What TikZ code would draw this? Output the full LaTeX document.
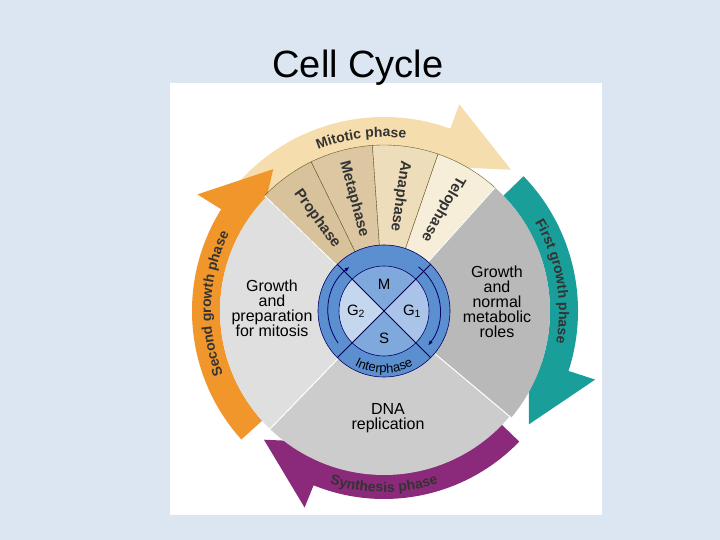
\documentclass[tikz,border=0pt]{standalone}
\usepackage{fontspec}
\setmainfont{Liberation Sans}
\usetikzlibrary{decorations.text,arrows.meta}
\definecolor{bgblue}{HTML}{DCE6F2}
\definecolor{mito}{HTML}{F6DDAE}
\definecolor{tealc}{HTML}{1A9E9A}
\definecolor{purp}{HTML}{8B2A7A}
\definecolor{orng}{HTML}{F0962A}
\definecolor{tanA}{HTML}{D8C29C}
\definecolor{tanB}{HTML}{DCC7A2}
\definecolor{tanC}{HTML}{EEDDBB}
\definecolor{tanD}{HTML}{F7EEDA}
\definecolor{ringb}{HTML}{5B8FD0}
\definecolor{qdark}{HTML}{7FA8DC}
\definecolor{qmid}{HTML}{A9C4E8}
\definecolor{qlight}{HTML}{C5D7EF}
\tikzset{
  lbl/.style={font=\fontsize{16}{15}\selectfont, align=center, inner sep=0pt},
  wlbl/.style={font=\fontsize{15}{15}\selectfont\bfseries, text=black!80, inner sep=0pt},
  qlbl/.style={font=\fontsize{15}{15}\selectfont, inner sep=0pt},
}
\newcommand{\bandarrow}[9]{% color, a1, ah, at, rin, rout, hin, hout, rtip
  \fill[#1] (#2:#5) arc[start angle=#2, end angle=#3, radius=#5] -- (#3:#7) -- (#4:#9) -- (#3:#8) -- (#3:#6) arc[start angle=#3, end angle=#2, radius=#6] -- cycle;}
\begin{document}
\begin{tikzpicture}[x=1pt,y=1pt]
\fill[bgblue] (0,0) rectangle (720,540);
\useasboundingbox (0,0) rectangle (720,540);
\fill[white] (170,25) rectangle (602,457);
\node[font=\fontsize{38}{40}\selectfont, inner sep=0pt] (title) at (358,472) {Cell Cycle};
\begin{scope}[shift={(384,229)}]
% arrows
\bandarrow{mito}{142}{70}{48}{164}{194}{154}{220}{190}
\bandarrow{tealc}{44}{-18}{-38}{166}{194}{152}{222}{184}
\bandarrow{purp}{-44}{-112}{-133}{162}{188}{142}{212}{176}
\bandarrow{orng}{-138}{-212}{-232}{164}{192}{148}{220}{180}
% sectors
\fill[gray!25] (0,0) -- (136:164) arc[start angle=136,end angle=226,radius=164] -- cycle;
\fill[gray!55] (0,0) -- (48:166) arc[start angle=48,end angle=-40,radius=166] -- cycle;
\fill[gray!40] (0,0) -- (-40:164) arc[start angle=-40,end angle=-134,radius=164] -- cycle;
\fill[tanA,draw=olive!60!black,line width=0.4pt] (0,0) -- (136:166) arc[start angle=136,end angle=116,radius=166] -- cycle;
\fill[tanB,draw=olive!60!black,line width=0.4pt] (0,0) -- (116:166) arc[start angle=116,end angle=94,radius=166] -- cycle;
\fill[tanC,draw=olive!60!black,line width=0.4pt] (0,0) -- (94:166) arc[start angle=94,end angle=71,radius=166] -- cycle;
\fill[tanD,draw=olive!60!black,line width=0.4pt] (0,0) -- (71:166) arc[start angle=71,end angle=48,radius=166] -- cycle;
\draw[white,line width=1pt] (0,0) -- (136:166) (0,0) -- (48:166) (0,0)--(-40:166) (0,0)--(-134:166);
% wedge labels
\node[wlbl,rotate=306] (pro) at (126:114) {Prophase};
\node[wlbl,rotate=285] (meta) at (105:116) {Metaphase};
\node[wlbl,rotate=262] (ana) at (82:116) {Anaphase};
\node[wlbl,rotate=240] (telo) at (60:118) {Telophase};
% sector labels
\node[lbl] (g2t) at (-112,3) {Growth\\and\\preparation\\for mitosis};
\node[lbl] (g1t) at (113,9) {Growth\\and\\normal\\metabolic\\roles};
\node[lbl] (st) at (4,-107) {DNA\\replication};
% curved band labels
\path[decorate,decoration={text along path,text align=center,text={|\fontsize{14}{14}\selectfont\bfseries\color{black!80}|Mitotic phase}}] (135:174) arc[start angle=135,end angle=60,radius=174];
\path[decorate,decoration={text along path,text align=center,text={|\fontsize{14}{14}\selectfont\bfseries\color{black!80}|First growth phase}}] (40:175) arc[start angle=40,end angle=-20,radius=175];
\path[decorate,decoration={text along path,text align=center,text={|\fontsize{14}{14}\selectfont\bfseries\color{black!80}|Synthesis phase}}] (-135:181) arc[start angle=-135,end angle=-45,radius=181];
\path[decorate,decoration={text along path,text align=center,text={|\fontsize{14}{14}\selectfont\bfseries\color{black!80}|Second growth phase}}] (-140:173) arc[start angle=-140,end angle=-225,radius=173];
% center
\fill[ringb,draw=blue!40!black,line width=0.6pt] (0,0) circle (66);
\draw[blue!40!black,line width=0.8pt,-{Latex[length=5pt]}] (215:56) arc[start angle=215,end angle=128,radius=56];
\draw[blue!40!black,line width=0.8pt,-{Latex[length=5pt]}] (52:56) arc[start angle=52,end angle=-38,radius=56];
\fill[qdark] (0,0) -- (45:45) arc[start angle=45,end angle=135,radius=45] -- cycle;
\fill[qlight] (0,0) -- (135:45) arc[start angle=135,end angle=225,radius=45] -- cycle;
\fill[qdark] (0,0) -- (225:45) arc[start angle=225,end angle=315,radius=45] -- cycle;
\fill[qmid] (0,0) -- (-45:45) arc[start angle=-45,end angle=45,radius=45] -- cycle;
\draw[blue!30!black,line width=1pt] (135:66) -- (-45:66) (45:66) -- (225:66);
\draw[blue!40!black,line width=0.6pt] (0,0) circle (45);
\node[qlbl] (m) at (0,27) {M};
\node[qlbl] (s) at (0,-27) {S};
\node[qlbl] (g2) at (-28,0) {G\textsubscript{2}};
\node[qlbl] (g1) at (28,0) {G\textsubscript{1}};
\path[decorate,decoration={text along path,text align=center,text={|\fontsize{13}{13}\selectfont|Interphase}}] (-150:62) arc[start angle=-150,end angle=-30,radius=62];
\end{scope}
\end{tikzpicture}
\end{document}
